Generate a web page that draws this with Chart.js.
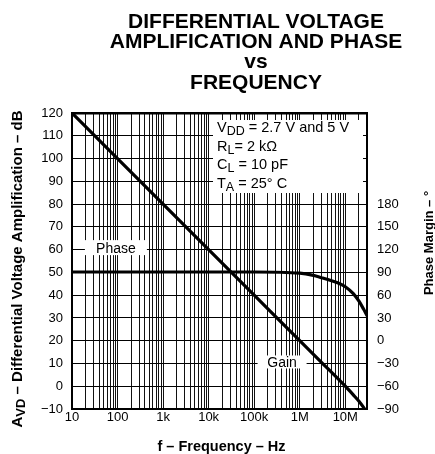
<!DOCTYPE html>
<html lang="en">
  <head>
    <meta charset="UTF-8" />
    <title>Differential Voltage Amplification and Phase vs Frequency</title>
    <script src="https://cdn.jsdelivr.net/npm/chart.js/dist/chart.umd.min.js"></script>
    <style>
      html, body { margin: 0; padding: 0; background: #fff; }
      .chartBox { width: 435px; height: 454px; }
    </style>
  </head>
  <body>
    <div class="chartBox">
      <canvas id="myChart" width="435" height="454"></canvas>
    </div>
    <script>
      // data
      const gainFreq = [10, 100, 1e3, 1e4, 1e5, 1e6, 3e6, 1e7, 1.5e7, 2e7, 2.5e7, 3e7];
      const gainDb = [120, 100, 80, 60, 40, 20, 10.5, 0, -3.8, -6.6, -9.2, -11.5];
      const phaseFreq = [10, 100, 1e3, 1e4, 1e5, 1e6, 2e6, 3e6, 5e6, 7e6, 1e7, 1.5e7, 2e7, 2.5e7, 3e7];
      const phaseDeg = [90.5, 90.5, 90.5, 90.5, 90.5, 89, 86, 83, 79, 76, 71, 62, 52, 42, 33];

      const xTickValues = [10, 100, 1e3, 1e4, 1e5, 1e6, 1e7];
      const xTickLabels = ['10', '100', '1k', '10k', '100k', '1M', '10M'];
      const titleLines = ['DIFFERENTIAL VOLTAGE', 'AMPLIFICATION AND PHASE', 'vs', 'FREQUENCY'];
      const conditions = [
        [['V', false], ['DD', true], [' = 2.7 V and 5 V', false]],
        [['R', false], ['L', true], ['= 2 k\u03A9', false]],
        [['C', false], ['L', true], [' = 10 pF', false]],
        [['T', false], ['A', true], [' = 25\u00B0 C', false]]
      ];

      const FONT = '"Liberation Sans", Arial, sans-serif';
      const minus = v => (v < 0 ? '\u2212' + Math.abs(v) : '' + v);

      // gridlines at 1..9 of every decade
      const xGrid = [];
      for (let d = 10; d <= 1e7; d *= 10) {
        for (let m = 1; m <= 9; m++) {
          if (m * d <= 3e7) xGrid.push(m * d);
        }
      }

      // text with subscripts, drawn left to right
      function drawRich(ctx, parts, x, y, size, bold) {
        let cx = x;
        parts.forEach(([txt, sub]) => {
          const s = sub ? size - 2 : size;
          ctx.font = (bold ? 'bold ' : '') + s + 'px ' + FONT;
          ctx.fillText(txt, cx, sub ? y + 3 : y);
          cx += ctx.measureText(txt).width;
        });
        return cx - x;
      }
      function richWidth(ctx, parts, size, bold) {
        let w = 0;
        parts.forEach(([txt, sub]) => {
          ctx.font = (bold ? 'bold ' : '') + (sub ? size - 2 : size) + 'px ' + FONT;
          w += ctx.measureText(txt).width;
        });
        return w;
      }

      function labelBox(ctx, text, cx, cy, w, h) {
        ctx.fillStyle = '#fff';
        ctx.fillRect(cx - w / 2, cy - h / 2, w, h);
        ctx.fillStyle = '#000';
        ctx.font = '14px ' + FONT;
        ctx.textAlign = 'center';
        ctx.fillText(text, cx, cy + 5);
        ctx.textAlign = 'left';
      }

      const textPlugin = {
        id: 'texts',
        afterDraw(chart) {
          const { ctx, chartArea: a, scales } = chart;
          const x = scales.x, y = scales.y;
          ctx.save();
          ctx.fillStyle = '#000';
          ctx.textBaseline = 'alphabetic';

          // title
          ctx.font = 'bold 21px ' + FONT;
          ctx.textAlign = 'center';
          const base = [28, 48, 68, 89];
          titleLines.forEach((t, i) => ctx.fillText(t, 256, base[i]));
          ctx.textAlign = 'left';

          // conditions box
          ctx.fillStyle = '#fff';
          ctx.fillRect(a.right - 154, a.top + 7, 150, 73);
          ctx.fillStyle = '#000';
          conditions.forEach((parts, i) => {
            drawRich(ctx, parts, a.right - 150, a.top + 19 + i * 18.7, 14.5, false);
          });

          // curve labels
          labelBox(ctx, 'Phase', x.getPixelForValue(92), y.getPixelForValue(60) - 2, 62, 15);
          labelBox(ctx, 'Gain', x.getPixelForValue(4.1e5), y.getPixelForValue(10) - 1.5, 49, 13);

          // x title
          ctx.font = 'bold 14.5px ' + FONT;
          ctx.textAlign = 'center';
          ctx.fillText('f \u2013 Frequency \u2013 Hz', (a.left + a.right) / 2 + 2, 451);
          ctx.textAlign = 'left';

          // left title, rotated
          const leftParts = [['A', false], ['VD', true], [' \u2013 Differential Voltage Amplification \u2013 dB', false]];
          ctx.save();
          ctx.translate(22, 269);
          ctx.rotate(-Math.PI / 2);
          const lw = richWidth(ctx, leftParts, 15, true);
          drawRich(ctx, leftParts, -lw / 2, 0, 15, true);
          ctx.restore();

          // right title, rotated
          ctx.save();
          ctx.translate(433, 243);
          ctx.rotate(-Math.PI / 2);
          ctx.font = 'bold 13px ' + FONT;
          ctx.textAlign = 'center';
          ctx.fillText('Phase Margin \u2013 \u00B0', 0, 0);
          ctx.restore();

          ctx.restore();
        }
      };

      const data = {
        datasets: [
          {
            label: 'Gain',
            data: gainFreq.map((f, i) => ({ x: f, y: gainDb[i] })),
            yAxisID: 'y',
            borderColor: '#000',
            borderWidth: 3.2,
            pointRadius: 0,
            cubicInterpolationMode: 'monotone',
            fill: false
          },
          {
            label: 'Phase',
            data: phaseFreq.map((f, i) => ({ x: f, y: phaseDeg[i] })),
            yAxisID: 'y2',
            borderColor: '#000',
            borderWidth: 3.2,
            pointRadius: 0,
            cubicInterpolationMode: 'monotone',
            fill: false
          }
        ]
      };

      const tickFont = { family: FONT, size: 13 };

      const config = {
        type: 'line',
        data,
        options: {
          responsive: false,
          animation: false,
          events: [],
          layout: { padding: { top: 113, left: 0, right: 0, bottom: 0 } },
          plugins: { legend: { display: false }, title: { display: false }, tooltip: { enabled: false } },
          scales: {
            x: {
              type: 'logarithmic',
              min: 10,
              max: 3e7,
              afterBuildTicks: axis => { axis.ticks = xGrid.map(v => ({ value: v })); },
              afterFit: axis => { axis.height = 45; },
              ticks: {
                autoSkip: false,
                maxRotation: 0,
                padding: 1,
                color: '#000',
                font: tickFont,
                callback: v => {
                  const i = xTickValues.indexOf(v);
                  return i >= 0 ? xTickLabels[i] : '';
                }
              },
              grid: { color: '#111', lineWidth: 1, drawTicks: false },
              border: { display: true, color: '#000', width: 2 }
            },
            y: {
              position: 'left',
              min: -10,
              max: 120,
              afterFit: axis => { axis.width = 72; },
              ticks: {
                stepSize: 10,
                padding: 9,
                color: '#000',
                font: tickFont,
                callback: v => minus(v)
              },
              grid: {
                color: '#000',
                drawTicks: false,
                lineWidth: c => (c.tick && c.tick.value === 120 ? 2.5 : 1)
              },
              border: { display: true, color: '#000', width: 2 }
            },
            y2: {
              position: 'right',
              min: -90,
              max: 300,
              afterFit: axis => { axis.width = 68; },
              ticks: {
                stepSize: 30,
                padding: 10,
                color: '#000',
                font: tickFont,
                callback: v => (v <= 180 ? minus(v) : '')
              },
              grid: { display: false, drawTicks: false },
              border: { display: true, color: '#000', width: 2 }
            }
          }
        },
        plugins: [textPlugin]
      };

      const myChart = new Chart(document.getElementById('myChart'), config);
    </script>
  </body>
</html>
